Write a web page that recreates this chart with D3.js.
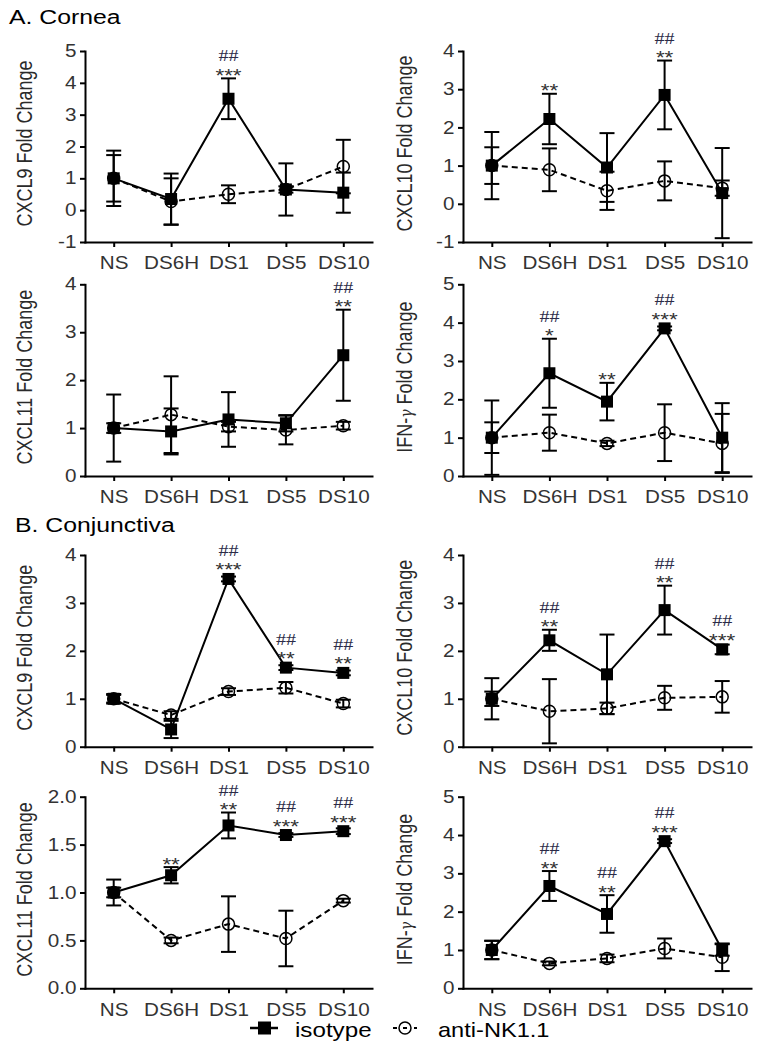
<!DOCTYPE html>
<html><head><meta charset="utf-8">
<script src="https://cdnjs.cloudflare.com/ajax/libs/d3/7.8.5/d3.min.js"></script>
<style>body{margin:0;background:#fff} svg{display:block}</style>
</head><body><svg id="chart" width="766" height="1049"></svg>
<script>
// ---------- DATA ----------
const categories = ["NS", "DS6H", "DS1", "DS5", "DS10"];
const seriesNames = ["isotype", "anti-NK1.1"];

// A. Cornea – CXCL9
const cornCXCL9Iso     = [1.00, 0.35, 3.50, 0.65, 0.55];
const cornCXCL9IsoErr  = [0.87, 0.80, 0.64, 0.82, 0.63];
const cornCXCL9Anti    = [1.00, 0.27, 0.50, 0.65, 1.37];
const cornCXCL9AntiErr = [0.73, 0.73, 0.28, 0.10, 0.84];
const cornCXCL9Stars   = ["", "", "***", "", ""];
const cornCXCL9Hash    = ["", "", "##", "", ""];
// A. Cornea – CXCL10
const cornCXCL10Iso     = [1.00, 2.22, 0.95, 2.85, 0.28];
const cornCXCL10IsoErr  = [0.88, 0.66, 0.90, 0.90, 1.18];
const cornCXCL10Anti    = [1.00, 0.89, 0.34, 0.60, 0.41];
const cornCXCL10AntiErr = [0.48, 0.56, 0.50, 0.51, 0.20];
const cornCXCL10Stars   = ["", "**", "", "**", ""];
const cornCXCL10Hash    = ["", "", "", "##", ""];
// A. Cornea – CXCL11
const cornCXCL11Iso     = [1.00, 0.93, 1.18, 1.10, 2.52];
const cornCXCL11IsoErr  = [0.70, 0.48, 0.57, 0.17, 0.95];
const cornCXCL11Anti    = [1.00, 1.28, 1.03, 0.96, 1.05];
const cornCXCL11AntiErr = [0.10, 0.80, 0.10, 0.30, 0.08];
const cornCXCL11Stars   = ["", "", "", "", "**"];
const cornCXCL11Hash    = ["", "", "", "", "##"];
// A. Cornea – IFN-γ
const cornIFNIso     = [1.00, 2.68, 1.94, 3.85, 1.00];
const cornIFNIsoErr  = [0.97, 0.90, 0.49, 0.05, 0.90];
const cornIFNAnti    = [1.00, 1.13, 0.85, 1.13, 0.85];
const cornIFNAntiErr = [0.40, 0.47, 0.07, 0.74, 0.77];
const cornIFNStars   = ["", "*", "**", "***", ""];
const cornIFNHash    = ["", "##", "", "##", ""];

// B. Conjunctiva – CXCL9
const conjCXCL9Iso     = [1.00, 0.36, 3.50, 1.65, 1.54];
const conjCXCL9IsoErr  = [0.10, 0.18, 0.05, 0.05, 0.05];
const conjCXCL9Anti    = [1.00, 0.66, 1.15, 1.23, 0.90];
const conjCXCL9AntiErr = [0.08, 0.08, 0.07, 0.12, 0.08];
const conjCXCL9Stars   = ["", "", "***", "**", "**"];
const conjCXCL9Hash    = ["", "", "##", "##", "##"];
// B. Conjunctiva – CXCL10
const conjCXCL10Iso     = [1.00, 2.22, 1.51, 2.85, 2.03];
const conjCXCL10IsoErr  = [0.15, 0.22, 0.83, 0.51, 0.10];
const conjCXCL10Anti    = [1.00, 0.74, 0.80, 1.02, 1.04];
const conjCXCL10AntiErr = [0.43, 0.67, 0.12, 0.25, 0.33];
const conjCXCL10Stars   = ["", "**", "", "**", "***"];
const conjCXCL10Hash    = ["", "##", "", "##", "##"];
// B. Conjunctiva – CXCL11
const conjCXCL11Iso     = [1.00, 1.18, 1.70, 1.60, 1.64];
const conjCXCL11IsoErr  = [0.135, 0.085, 0.135, 0.02, 0.03];
const conjCXCL11Anti    = [1.00, 0.50, 0.67, 0.52, 0.915];
const conjCXCL11AntiErr = [0.05, 0.03, 0.29, 0.29, 0.02];
const conjCXCL11Stars   = ["", "**", "**", "***", "***"];
const conjCXCL11Hash    = ["", "", "##", "##", "##"];
// B. Conjunctiva – IFN-γ
const conjIFNIso     = [1.00, 2.67, 1.94, 3.84, 1.00];
const conjIFNIsoErr  = [0.24, 0.39, 0.49, 0.05, 0.15];
const conjIFNAnti    = [1.00, 0.65, 0.78, 1.04, 0.81];
const conjIFNAntiErr = [0.24, 0.05, 0.10, 0.26, 0.36];
const conjIFNStars   = ["", "**", "**", "***", ""];
const conjIFNHash    = ["", "##", "##", "##", ""];

// tick labels
const ticksM1to5 = [-1, 0, 1, 2, 3, 4, 5];
const ticksM1to4 = [-1, 0, 1, 2, 3, 4];
const ticks0to4  = [0, 1, 2, 3, 4];
const ticks0to5  = [0, 1, 2, 3, 4, 5];
const ticks0to2  = [0, 0.5, 1, 1.5, 2];

// ---------- LAYOUT / STYLE ----------
const SX = 1.18;
const FONT = "'Liberation Sans', Arial, Helvetica, sans-serif";
const SERIF = "'Liberation Serif', 'Times New Roman', serif";
const svg = d3.select("#chart");
const cols = [{x0: 85, x1: 372, tx: 31.7}, {x0: 463, x1: 751, tx: 411.5}];
const rows = [{t: 51, b: 242}, {t: 284.3, b: 476}, {t: 555, b: 746.7}, {t: 796.7, b: 988.3}];
const intFmt = v => String(v);
const decFmt = v => d3.format(".1f")(v);

const panels = [
  {col:0,row:0,gene:"CXCL9", ticks:ticksM1to5, fmt:intFmt, iso:cornCXCL9Iso, isoErr:cornCXCL9IsoErr, anti:cornCXCL9Anti, antiErr:cornCXCL9AntiErr, stars:cornCXCL9Stars, hash:cornCXCL9Hash},
  {col:1,row:0,gene:"CXCL10",ticks:ticksM1to4, fmt:intFmt, iso:cornCXCL10Iso, isoErr:cornCXCL10IsoErr, anti:cornCXCL10Anti, antiErr:cornCXCL10AntiErr, stars:cornCXCL10Stars, hash:cornCXCL10Hash},
  {col:0,row:1,gene:"CXCL11",ticks:ticks0to4, fmt:intFmt, iso:cornCXCL11Iso, isoErr:cornCXCL11IsoErr, anti:cornCXCL11Anti, antiErr:cornCXCL11AntiErr, stars:cornCXCL11Stars, hash:cornCXCL11Hash},
  {col:1,row:1,gene:"IFN-γ", ticks:ticks0to5, fmt:intFmt, iso:cornIFNIso, isoErr:cornIFNIsoErr, anti:cornIFNAnti, antiErr:cornIFNAntiErr, stars:cornIFNStars, hash:cornIFNHash},
  {col:0,row:2,gene:"CXCL9", ticks:ticks0to4, fmt:intFmt, iso:conjCXCL9Iso, isoErr:conjCXCL9IsoErr, anti:conjCXCL9Anti, antiErr:conjCXCL9AntiErr, stars:conjCXCL9Stars, hash:conjCXCL9Hash},
  {col:1,row:2,gene:"CXCL10",ticks:ticks0to4, fmt:intFmt, iso:conjCXCL10Iso, isoErr:conjCXCL10IsoErr, anti:conjCXCL10Anti, antiErr:conjCXCL10AntiErr, stars:conjCXCL10Stars, hash:conjCXCL10Hash},
  {col:0,row:3,gene:"CXCL11",ticks:ticks0to2, fmt:decFmt, iso:conjCXCL11Iso, isoErr:conjCXCL11IsoErr, anti:conjCXCL11Anti, antiErr:conjCXCL11AntiErr, stars:conjCXCL11Stars, hash:conjCXCL11Hash},
  {col:1,row:3,gene:"IFN-γ", ticks:ticks0to5, fmt:intFmt, iso:conjIFNIso, isoErr:conjIFNIsoErr, anti:conjIFNAnti, antiErr:conjIFNAntiErr, stars:conjIFNStars, hash:conjIFNHash}
];

function stretchedText(g, x, y, txt, size, opts = {}) {
  return g.append("text")
    .attr("transform", `translate(${x},${y}) scale(${SX},1)` + (opts.rotate ? ` rotate(${opts.rotate})` : ""))
    .attr("text-anchor", opts.anchor || "start")
    .attr("font-family", opts.family || FONT)
    .attr("font-size", size)
    .attr("fill", opts.fill || "#000")
    .text(txt);
}

function drawPanel(p) {
  const c = cols[p.col], r = rows[p.row];
  const x = d3.scalePoint().domain(categories).range([c.x0, c.x1]).padding(0.5);
  const y = d3.scaleLinear().domain(d3.extent(p.ticks)).range([r.b, r.t]);
  const g = svg.append("g");

  // y axis
  const ya = g.append("g").attr("transform", `translate(${c.x0},0)`)
    .call(d3.axisLeft(y).tickValues(p.ticks).tickFormat(p.fmt).tickSize(5).tickSizeOuter(0));
  ya.select(".domain").attr("stroke", "#000").attr("stroke-width", 2).attr("stroke-linecap", "square");
  ya.selectAll(".tick line").attr("stroke", "#000").attr("stroke-width", 2);
  ya.selectAll(".tick text").attr("x", -8.6 / SX).attr("transform", `scale(${SX},1)`)
    .attr("font-size", 17.5).attr("font-family", FONT).attr("fill", "#333");

  // x axis
  const xa = g.append("g").attr("transform", `translate(0,${r.b})`)
    .call(d3.axisBottom(x).tickSize(5).tickSizeOuter(0));
  xa.select(".domain").attr("stroke", "#000").attr("stroke-width", 2).attr("stroke-linecap", "square");
  xa.selectAll(".tick line").attr("stroke", "#000").attr("stroke-width", 2);
  xa.selectAll(".tick text").attr("y", 15).attr("transform", `scale(${SX},1)`)
    .attr("font-size", 17.5).attr("font-family", FONT).attr("fill", "#333");

  // y title
  const t = stretchedText(g, c.tx, (r.t + r.b) / 2 - 3, "", 18, {anchor: "middle", rotate: -90, fill: "#2a2a2a"});
  if (p.gene === "IFN-γ") {
    t.append("tspan").text("IFN-");
    t.append("tspan").attr("font-family", "'DejaVu Serif', serif").attr("font-style", "italic").attr("font-size", 14).text("γ");
    t.append("tspan").text(" Fold Change");
  } else {
    t.text(p.gene + " Fold Change");
  }

  const cap = 7.5;
  function errorBars(vals, errs) {
    const eg = g.append("g").attr("stroke", "#000").attr("stroke-width", 2).attr("fill", "none");
    vals.forEach((v, i) => {
      const cx = x(categories[i]);
      const y1 = y(v + errs[i]), y2 = y(v - errs[i]);
      eg.append("line").attr("x1", cx).attr("x2", cx).attr("y1", y1).attr("y2", y2);
      eg.append("line").attr("x1", cx - cap).attr("x2", cx + cap).attr("y1", y1).attr("y2", y1);
      eg.append("line").attr("x1", cx - cap).attr("x2", cx + cap).attr("y1", y2).attr("y2", y2);
    });
  }
  const line = d3.line().x((d, i) => x(categories[i])).y(d => y(d));

  // anti-NK1.1 series
  g.append("path").datum(p.anti).attr("d", line).attr("fill", "none").attr("stroke", "#000")
    .attr("stroke-width", 2).attr("stroke-dasharray", "6,4");
  errorBars(p.anti, p.antiErr);
  g.append("g").selectAll("circle").data(p.anti).join("circle")
    .attr("cx", (d, i) => x(categories[i])).attr("cy", d => y(d)).attr("r", 6)
    .attr("fill", "none").attr("stroke", "#000").attr("stroke-width", 1.5);

  // isotype series
  g.append("path").datum(p.iso).attr("d", line).attr("fill", "none").attr("stroke", "#000").attr("stroke-width", 2);
  errorBars(p.iso, p.isoErr);
  g.append("g").selectAll("rect").data(p.iso).join("rect")
    .attr("x", (d, i) => x(categories[i]) - 6).attr("y", d => y(d) - 6)
    .attr("width", 12).attr("height", 12).attr("fill", "#000");

  // significance marks
  p.iso.forEach((v, i) => {
    if (!p.stars[i]) return;
    const cx = x(categories[i]);
    const top = Math.min(y(v + p.isoErr[i]), y(v) - 6);
    const base = top + 3.5;
    stretchedText(g, cx, base, p.stars[i], 19, {anchor: "middle", fill: "#333"});
    if (p.hash[i]) stretchedText(g, cx, base - 20.5, p.hash[i], 17, {anchor: "middle", family: SERIF, fill: "#2c2c48"});
  });
}

panels.forEach(drawPanel);

// section titles
stretchedText(svg, 9, 24, "A. Cornea", 21);
stretchedText(svg, 15, 531.5, "B. Conjunctiva", 21);

// legend
const lg = svg.append("g");
const ly = 1028;
lg.append("line").attr("x1", 250).attr("x2", 278).attr("y1", ly).attr("y2", ly).attr("stroke", "#000").attr("stroke-width", 2.5);
lg.append("rect").attr("x", 258).attr("y", ly - 6.5).attr("width", 13).attr("height", 13).attr("fill", "#000");
stretchedText(lg, 295, 1036.5, seriesNames[0], 20.5);
lg.append("line").attr("x1", 393).attr("x2", 397).attr("y1", ly).attr("y2", ly).attr("stroke", "#000").attr("stroke-width", 2);
lg.append("circle").attr("cx", 405).attr("cy", ly).attr("r", 6).attr("fill", "none").attr("stroke", "#000").attr("stroke-width", 1.5);
lg.append("line").attr("x1", 403).attr("x2", 407).attr("y1", ly).attr("y2", ly).attr("stroke", "#000").attr("stroke-width", 2);
lg.append("line").attr("x1", 414).attr("x2", 417).attr("y1", ly).attr("y2", ly).attr("stroke", "#000").attr("stroke-width", 2);
stretchedText(lg, 438, 1036.5, seriesNames[1], 20);
</script>
</body></html>
